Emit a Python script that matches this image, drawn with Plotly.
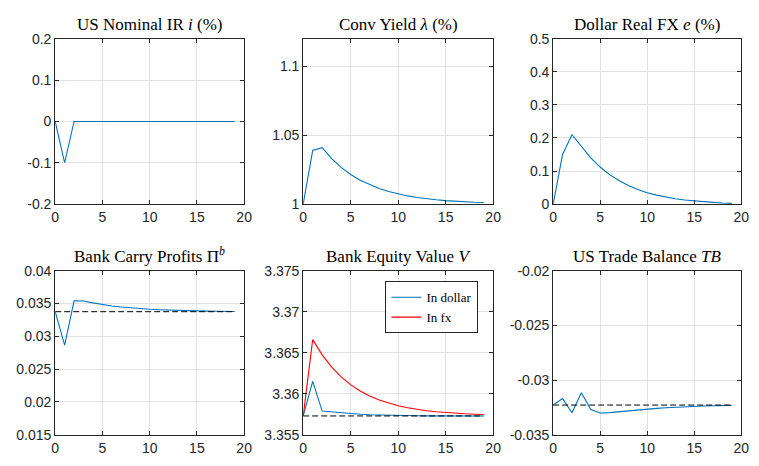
import plotly.graph_objects as go

t = list(range(20))

i_nom = [0, -0.1] + [0] * 18
conv_yield = [1.0, 1.039, 1.041, 1.0330, 1.0266, 1.0215, 1.0173, 1.0140, 1.0113, 1.0091,
              1.0073, 1.0059, 1.0048, 1.0038, 1.0031, 1.0025, 1.0020, 1.0016, 1.0013, 1.0011]
real_fx = [0.0, 0.15, 0.21, 0.175, 0.14, 0.112, 0.089, 0.071, 0.056, 0.044,
           0.034, 0.027, 0.021, 0.016, 0.012, 0.009, 0.007, 0.005, 0.003, 0.002]
carry = [0.03375, 0.02867, 0.03541, 0.03538, 0.0351, 0.03482, 0.03462, 0.03446, 0.03432, 0.03421,
         0.03412, 0.03405, 0.03399, 0.03394, 0.0339, 0.03387, 0.03384, 0.03382, 0.0338, 0.03379]
carry_ss = 0.03375
equity_dollar = [3.3573, 3.36152, 3.35789, 3.35778, 3.35767, 3.35757, 3.3575, 3.35744, 3.3574, 3.35737,
                 3.35735, 3.35733, 3.35732, 3.35731, 3.35731, 3.3573, 3.3573, 3.3573, 3.3573, 3.3573]
equity_fx = [3.3573, 3.3666, 3.36474, 3.36325, 3.36206, 3.36111, 3.36035, 3.35974, 3.35925, 3.35886,
             3.35855, 3.3583, 3.3581, 3.35794, 3.35781, 3.35771, 3.35763, 3.35756, 3.35751, 3.35747]
equity_ss = 3.3573
trade_bal = [-0.03228, -0.03169, -0.03298, -0.03116, -0.03269, -0.03300, -0.03297, -0.03288, -0.03279, -0.03271,
             -0.03264, -0.03258, -0.03252, -0.03247, -0.03243, -0.03239, -0.03236, -0.03234, -0.03232, -0.03231]
trade_ss = -0.03228

titles = ["US Nominal IR <i>i</i> (%)", "Conv Yield <i>λ</i> (%)", "Dollar Real FX <i>e</i> (%)",
          "Bank Carry Profits Π<sup><i>b</i></sup>", "Bank Equity Value <i>V</i>", "US Trade Balance <i>TB</i>"]

x_ticks = [0, 5, 10, 15, 20]
x_ticktext = ["0", "5", "10", "15", "20"]

y_specs = [
    ([-0.2, 0.2], [-0.2, -0.1, 0, 0.1, 0.2], ["-0.2", "-0.1", "0", "0.1", "0.2"]),
    ([1.0, 1.12], [1.0, 1.05, 1.1], ["1", "1.05", "1.1"]),
    ([0, 0.5], [0, 0.1, 0.2, 0.3, 0.4, 0.5], ["0", "0.1", "0.2", "0.3", "0.4", "0.5"]),
    ([0.015, 0.04], [0.015, 0.02, 0.025, 0.03, 0.035, 0.04], ["0.015", "0.02", "0.025", "0.03", "0.035", "0.04"]),
    ([3.355, 3.375], [3.355, 3.36, 3.365, 3.37, 3.375], ["3.355", "3.36", "3.365", "3.37", "3.375"]),
    ([-0.035, -0.02], [-0.035, -0.03, -0.025, -0.02], ["-0.035", "-0.03", "-0.025", "-0.02"]),
]

W, H = 759, 466
x_dom_px = [(52, 244), (304, 497), (558, 749)]
y_dom_px = [(32, 203), (272, 442)]

BLUE = "#0072BD"
RED = "#FF0000"
SERIF = "Liberation Serif"
SANS = "Liberation Sans"

fig = go.Figure()

def add(trace, k):
    ax = "" if k == 0 else str(k + 1)
    trace.update(xaxis="x" + ax, yaxis="y" + ax)
    fig.add_trace(trace)

line_w = 1.1
dash_style = "6px,3px"
add(go.Scatter(x=t, y=i_nom, mode="lines", line=dict(color=BLUE, width=line_w), showlegend=False), 0)
add(go.Scatter(x=t, y=conv_yield, mode="lines", line=dict(color=BLUE, width=line_w), showlegend=False), 1)
add(go.Scatter(x=t, y=real_fx, mode="lines", line=dict(color=BLUE, width=line_w), showlegend=False), 2)
add(go.Scatter(x=t, y=carry, mode="lines", line=dict(color=BLUE, width=line_w), showlegend=False), 3)
add(go.Scatter(x=t, y=[carry_ss] * len(t), mode="lines", line=dict(color="black", width=1, dash=dash_style), showlegend=False), 3)
add(go.Scatter(x=t, y=equity_dollar, mode="lines", name="In dollar", line=dict(color=BLUE, width=line_w)), 4)
add(go.Scatter(x=t, y=equity_fx, mode="lines", name="In fx", line=dict(color=RED, width=line_w)), 4)
add(go.Scatter(x=t, y=[equity_ss] * len(t), mode="lines", line=dict(color="black", width=1, dash=dash_style), showlegend=False), 4)
add(go.Scatter(x=t, y=trade_bal, mode="lines", line=dict(color=BLUE, width=line_w), showlegend=False), 5)
add(go.Scatter(x=t, y=[trade_ss] * len(t), mode="lines", line=dict(color="black", width=1, dash=dash_style), showlegend=False), 5)

tick_font = dict(family=SANS, size=14, color="#262626")
axis_common = dict(showline=True, linecolor="#262626", linewidth=1, mirror="allticks",
                   ticks="inside", ticklen=4, tickcolor="#262626", tickwidth=1,
                   showgrid=True, gridcolor="#e3e3e3", gridwidth=1, zeroline=False,
                   tickfont=tick_font)

layout = dict(width=W, height=H, margin=dict(l=0, r=0, t=0, b=0),
              plot_bgcolor="white", paper_bgcolor="white",
              font=dict(family=SANS, size=14, color="#262626"))
annotations = []
for k in range(6):
    r, c = divmod(k, 3)
    ax = "" if k == 0 else str(k + 1)
    x0, x1 = x_dom_px[c]
    y0, y1 = y_dom_px[r]
    yr, yv, yt = y_specs[k]
    layout["xaxis" + ax] = dict(domain=[x0 / W, x1 / W], range=[0, 20], tickvals=x_ticks, ticktext=x_ticktext,
                                anchor="y" + ax, **axis_common)
    layout["yaxis" + ax] = dict(domain=[1 - y1 / H, 1 - y0 / H], range=yr, tickvals=yv, ticktext=yt,
                                anchor="x" + ax, **axis_common)
    annotations.append(dict(text=titles[k], x=(x0 + x1) / 2 / W, y=1 - (y0 - 3) / H, xref="paper", yref="paper",
                            xanchor="center", yanchor="bottom", showarrow=False,
                            font=dict(family=SERIF, size=17, color="black")))
layout["annotations"] = annotations
layout["legend"] = dict(x=482 / W, y=1 - 283 / H, xanchor="right", yanchor="top",
                        bgcolor="white", bordercolor="#262626", borderwidth=1,
                        font=dict(family=SERIF, size=13, color="black"),
                        tracegroupgap=0, itemwidth=30)
fig.update_layout(**layout)
fig.write_html("out.html")
